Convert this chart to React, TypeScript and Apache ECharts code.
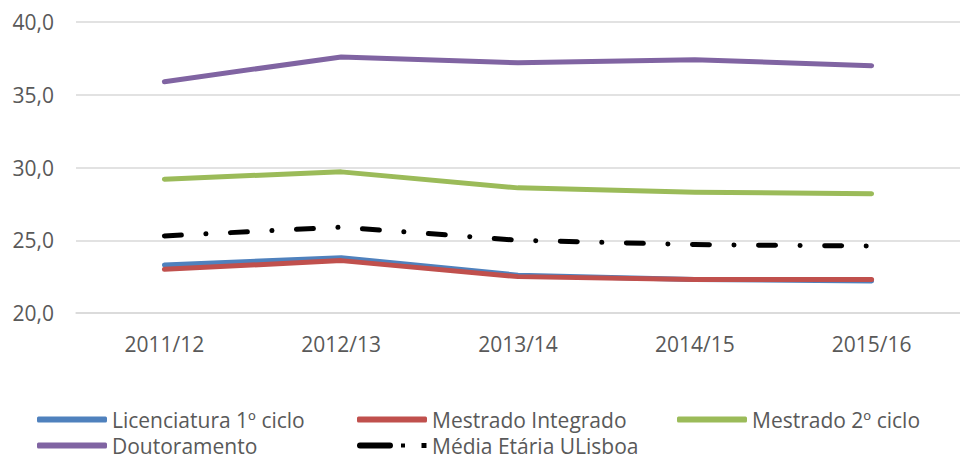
import React, { useEffect, useRef } from "react";
import * as echarts from "echarts";

const categories = ["2011/12", "2012/13", "2013/14", "2014/15", "2015/16"];
const licenciatura = [23.3, 23.8, 22.6, 22.3, 22.2];
const mestradoIntegrado = [23.0, 23.6, 22.5, 22.3, 22.3];
const mestrado2 = [29.2, 29.7, 28.6, 28.3, 28.2];
const doutoramento = [35.9, 37.6, 37.2, 37.4, 37.0];
const mediaEtaria = [25.3, 25.9, 25.0, 24.7, 24.6];

const FONT = "Open Sans";
const TEXT = "#595959";

const DASH_ICON =
  "path://M3,0 H33 A3,3 0 0 1 33,6 H3 A3,3 0 0 1 3,0 Z M44,1 H48 V5 H44 Z M64.5,0.5 H69.5 V5.5 H64.5 Z M70,0 H70.01 V6 H70 Z";

export default function App() {
  const ref = useRef<HTMLDivElement>(null);
  useEffect(() => {
    if (!ref.current) return;
    const chart = echarts.init(ref.current, undefined, { renderer: "svg" });
    const dash = [17, 24.5, 0.1, 24.5];
    const mk = (name: string, data: number[], color: string, type: any = "solid") => ({
      name,
      type: "line",
      data,
      symbol: "none",
      smooth: false,
      lineStyle: { color, width: 5, type, cap: "round", join: "round" },
      itemStyle: { color },
    });
    const leg = (name: string, left: number, top: number, extra: any = {}) => ({
      data: [name],
      left,
      top,
      padding: 0,
      itemWidth: 70,
      itemHeight: 6,
      icon: "roundRect",
      selectedMode: false,
      textStyle: { fontFamily: FONT, fontSize: 21, color: TEXT },
      ...extra,
    });
    chart.setOption({
      animation: false,
      grid: { left: 76, top: 22, width: 891, bottom: 146, containLabel: false },
      legend: [
        leg("Licenciatura 1º ciclo", 37, 409),
        leg("Mestrado Integrado", 357, 409),
        leg("Mestrado 2º ciclo", 677, 409),
        leg("Doutoramento", 37, 435),
        leg("Média Etária ULisboa", 357, 435, { icon: DASH_ICON }),
      ],
      xAxis: {
        type: "category",
        data: categories,
        boundaryGap: true,
        axisLine: { show: true, lineStyle: { color: "#D9D9D9", width: 1.5 } },
        axisTick: { show: false },
        axisLabel: { fontFamily: FONT, fontSize: 21, color: TEXT, margin: 20 },
      },
      yAxis: {
        type: "value",
        min: 20,
        max: 40,
        interval: 5,
        axisLine: { show: false },
        axisTick: { show: false },
        splitLine: { lineStyle: { color: "#D9D9D9", width: 1.5 } },
        axisLabel: {
          fontFamily: FONT,
          fontSize: 21,
          color: TEXT,
          margin: 22,
          formatter: (v: number) => v.toFixed(1).replace(".", ","),
        },
      },
      series: [
        mk("Licenciatura 1º ciclo", licenciatura, "#4F81BD"),
        mk("Mestrado Integrado", mestradoIntegrado, "#C0504D"),
        mk("Mestrado 2º ciclo", mestrado2, "#9BBB59"),
        mk("Doutoramento", doutoramento, "#8064A2"),
        mk("Média Etária ULisboa", mediaEtaria, "#000000", dash),
      ],
    });
    return () => chart.dispose();
  }, []);
  return (
    <div
      ref={ref}
      style={{ position: "fixed", left: 0, top: 0, width: 960, height: 459, background: "#fff" }}
    />
  );
}
